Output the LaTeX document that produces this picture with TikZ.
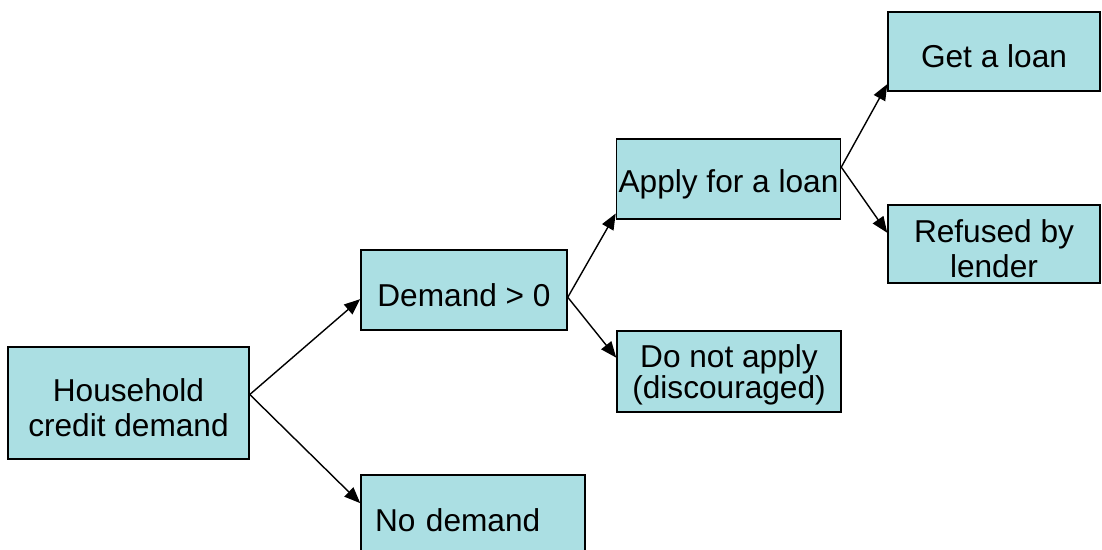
\documentclass[tikz,border=0pt]{standalone}
\usepackage{fontspec}
\setmainfont{Liberation Sans}
\usetikzlibrary{arrows.meta}
\definecolor{boxfill}{RGB}{171,223,227}
\begin{document}
\begin{tikzpicture}[box/.style = {draw,fill=boxfill,line width=1.1pt,inner sep=0pt,align=center,
                        text height=23.5pt,font=\fontsize{22.5}{25}\selectfont},
                    two lines/.style = {text height=48.5pt},
                    arr/.style = {line width=1pt,-{Triangle[length=0.4cm,width=0.32cm]}}]
            \clip (0,0) rectangle (27.55,-13.75);
            \node [box,two lines,minimum width=6.025cm,minimum height=2.8cm] (hh) at (3.2125,-10.075) {Household\\credit demand};
            \node [box,minimum width=5.15cm,minimum height=2cm] (dem) at (11.6,-7.25) {Demand > 0};
            \node [box,minimum width=5.6cm,minimum height=2cm,text width=4.9cm,inner xsep=0.35cm,align=left] (nod) at (11.825,-12.875) {No demand};
            \node [box,minimum width=5.6cm,minimum height=2cm] (app) at (18.2125,-4.475) {Apply for a loan};
            \node [box,two lines,minimum width=5.6cm,minimum height=2.025cm,text height=43.5pt,font=\fontsize{22.5}{20}\selectfont] (dna) at (18.225,-9.2875) {Do not apply\\(discouraged)};
            \node [box,minimum width=5.3cm,minimum height=1.975cm] (get) at (24.85,-1.2875) {Get a loan};
            \node [box,two lines,minimum width=5.3cm,minimum height=1.95cm] (ref) at (24.85,-6.1) {Refused by\\lender};
            \draw [arr] (hh.4) -- (dem.185);
            \draw [arr] (hh.4) -- (nod.174);
            \draw [arr] (dem.-4) -- (app.197);
            \draw [arr] (dem.-4) -- (dna.173);
            \draw [arr] (app.6) -- (get.197);
            \draw [arr] (app.6) -- (ref.174);
\end{tikzpicture}
\end{document}
